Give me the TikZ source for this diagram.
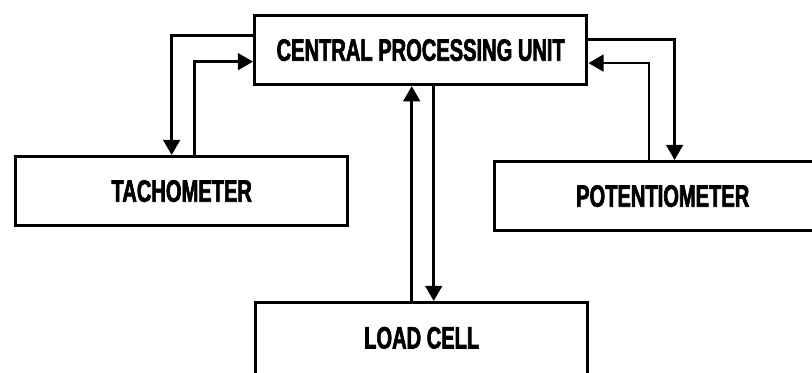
\documentclass[tikz,border=0pt]{standalone}
\usepackage{fontspec}
\setmainfont{Liberation Sans}
\newfontfamily\unitfont{Liberation Sans}[FakeStretch=0.65, FakeBold=2]
\usepackage{tikz}
\usetikzlibrary{
  arrows.meta,
  positioning,
  calc,
}

\begin{document}
\begin{tikzpicture}[
  x=0.025cm, y=-0.025cm,  % 1px = 0.025cm, 0 at top
  font=\unitfont\bfseries\fontsize{22}{24}\selectfont,
  unit/.style={draw, line width=2.4pt, minimum width=8.3cm, minimum height=1.72cm,
    inner sep=0pt, anchor=north west},
  link/.style={line width=1.8pt, -{Triangle[length=0.38cm, width=0.42cm]}},
]
  % Page
  \useasboundingbox (0,0) rectangle (812,373);
  \clip (0,0) rectangle (812,373);

  % Units
  \node[unit] (cpu) at (253,14) {CENTRAL PROCESSING UNIT};
  \node[unit] (tach) at (14,155) {TACHOMETER};
  \node[unit, minimum width=8.4cm] (pot) at (493,160) {POTENTIOMETER};
  \node[unit, minimum height=1.95cm, text depth=0.2cm] (load) at (254,301) {LOAD CELL};

  % Tachometer loop
  \draw[link] ($(cpu.north west)!0.3!(cpu.south west)$) -| ($(tach.north west)!0.47!(tach.north east)$);
  \draw[link] ($(tach.north west)!0.538!(tach.north east)$) |- ($(cpu.north west)!0.66!(cpu.south west)$);

  % Potentiometer loop
  \draw[link] ($(cpu.north east)!0.35!(cpu.south east)$) -| ($(pot.north west)!0.535!(pot.north east)$);
  \draw[link] ($(pot.north west)!0.46!(pot.north east)$) |- ($(cpu.north east)!0.68!(cpu.south east)$);

  % Load cell link
  \draw[link] ([xshift=-0.25cm]load.north) -- ([xshift=-0.25cm]load.north |- cpu.south);
  \draw[link] ([xshift=0.3cm]load.north |- cpu.south) -- ([xshift=0.3cm]load.north);

\end{tikzpicture}
\end{document}
